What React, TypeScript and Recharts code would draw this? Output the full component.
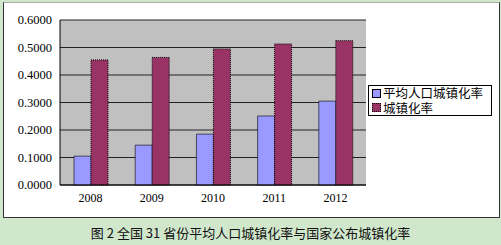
import { BarChart, Bar, XAxis, YAxis, CartesianGrid } from 'recharts';

const years = ['2008', '2009', '2010', '2011', '2012'];
const avgProvinceRate = [0.105, 0.145, 0.185, 0.251, 0.305];
const nationalRate = [0.455, 0.464, 0.495, 0.513, 0.525];
const yTicks = [0, 0.1, 0.2, 0.3, 0.4, 0.5, 0.6];

const avgName = '平均人口城镇化率';
const natName = '城镇化率';
const caption = '图 2 全国 31 省份平均人口城镇化率与国家公布城镇化率';

const data = years.map((y, i) => ({
  year: y,
  avg: avgProvinceRate[i],
  nat: nationalRate[i],
}));

const cjk = '"Noto Sans CJK SC", "Noto Sans", sans-serif';

const LegendBox = () => (
  <div
    style={{
      position: 'absolute',
      left: 368,
      top: 85,
      background: '#fff',
      border: '1px solid #000',
      padding: '0px 3px',
      fontFamily: cjk,
      fontSize: 12.5,
      lineHeight: '14.5px',
      color: '#000',
      width: 124,
      boxSizing: 'border-box',
    }}
  >
    <div style={{ display: 'flex', alignItems: 'center', height: 14.5 }}>
      <span style={{ width: 7, height: 7, background: '#9999ff', border: '1px solid #000', marginRight: 2, flex: 'none' }} />
      <span style={{ whiteSpace: 'nowrap', lineHeight: '14.5px' }}>{avgName}</span>
    </div>
    <div style={{ display: 'flex', alignItems: 'center', height: 14.5 }}>
      <span style={{ width: 7, height: 7, background: '#993366', border: '1px dotted #000', marginRight: 2, flex: 'none' }} />
      <span style={{ whiteSpace: 'nowrap', lineHeight: '14.5px' }}>{natName}</span>
    </div>
  </div>
);

export default function App() {
  return (
    <div style={{ position: 'fixed', left: 0, top: 0, width: 501, height: 245, background: '#d0e7cc' }}>
      <div
        style={{
          position: 'absolute',
          left: 3,
          top: 2,
          width: 495,
          height: 214,
          background: '#fff',
          borderLeft: '1px solid #333',
          borderRight: '1px solid #333',
          borderBottom: '1px solid #333',
          borderTop: '1px solid #aaa',
        }}
      />
      <div style={{ position: 'absolute', left: 0, top: 0 }}>
        <BarChart
          width={501}
          height={218}
          data={data}
          margin={{ top: 20, right: 135, bottom: 3, left: 0 }}
          barGap={0}
          barSize={17}
        >
          <CartesianGrid fill="#c0c0c0" stroke="#222" vertical={false} />
          <XAxis
            dataKey="year"
            height={30}
            tickLine={false}
            axisLine={{ stroke: '#000' }}
            tick={{ fill: '#000', fontSize: 12, fontFamily: '"Liberation Serif", serif' }}
          />
          <YAxis
            width={60}
            domain={[0, 0.6]}
            ticks={yTicks}
            tickLine={false}
            axisLine={{ stroke: '#000' }}
            tickFormatter={(v: number) => v.toFixed(4)}
            tick={{ fill: '#000', fontSize: 12.5, fontFamily: '"Liberation Serif", serif' }}
          />
          <Bar dataKey="avg" name={avgName} fill="#9999ff" stroke="#000" strokeWidth={0.6} isAnimationActive={false} />
          <Bar dataKey="nat" name={natName} fill="#993366" stroke="#000" strokeDasharray="1 1" strokeWidth={1} isAnimationActive={false} />
        </BarChart>
      </div>
      <LegendBox />
      <div
        style={{
          position: 'absolute',
          left: 0,
          top: 223,
          width: 501,
          textAlign: 'center',
          fontFamily: cjk,
          fontSize: 13,
          color: '#111',
          whiteSpace: 'pre',
        }}
      >
        {caption}
      </div>
    </div>
  );
}
